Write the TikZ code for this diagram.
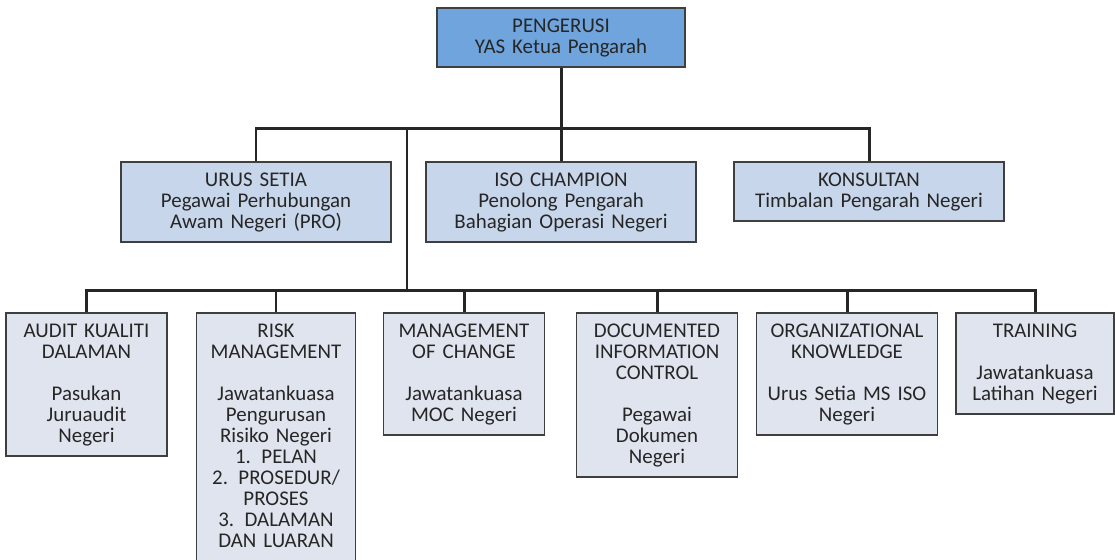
\documentclass[tikz,border=0pt]{standalone}
\usepackage{fontspec}
\setmainfont[WordSpace=0.8]{Carlito}
\usepackage{xcolor}
\usepackage{tikz}
\definecolor{border}{HTML}{3F3F3F}
\definecolor{wire}{HTML}{262626}
\definecolor{text}{HTML}{262626}
\definecolor{head}{HTML}{6FA4DD}
\definecolor{mid}{HTML}{C7D6EB}
\definecolor{low}{HTML}{DFE4EE}
\tikzset{
  box/.style={draw=border, line width=0.9pt, anchor=north, align=center,
    inner xsep=0pt, inner ysep=0.17cm, text=text,
    font=\fontsize{11.9pt}{11.95pt}\selectfont,
    execute at begin node=\rule{0pt}{9.5pt},
    execute at end node=\rule[-2.45pt]{0pt}{2.45pt}},
  boxT/.style={box, fill=head, text width=#1*0.02cm},
  boxM/.style={box, fill=mid, text width=#1*0.02cm},
  boxL/.style={box, fill=low, text width=#1*0.02cm},
  link/.style={draw=wire, line width=1.7pt}
}
\newcommand{\gap}{\\[0.42cm]}

\begin{document}
\begin{tikzpicture}[x=0.02cm, y=-0.02cm]
  \useasboundingbox (0,0) rectangle (1115,559);

  \coordinate (bar1) at (561,128);
  \coordinate (bar2) at (407,290);

  % Top level
  \node[boxT=248] (top) at (561,7) {PENGERUSI\\YAS Ketua Pengarah};

  % Second level
  \node[boxM=270] (urus) at (256,161) {URUS SETIA\\Pegawai Perhubungan\\Awam Negeri (PRO)};
  \node[boxM=270] (iso) at (561,161) {ISO CHAMPION\\Penolong Pengarah\\Bahagian Operasi Negeri};
  \node[boxM=270] (kons) at (869,161) {KONSULTAN\\Timbalan Pengarah Negeri};

  % Third level
  \node[boxL=161] (audit) at (86.5,312) {AUDIT KUALITI\\DALAMAN\gap Pasukan\\Juruaudit\\Negeri};
  \node[boxL=159] (risk) at (276,312) {RISK\\MANAGEMENT\gap Jawatankuasa\\Pengurusan\\Risiko Negeri\\1. PELAN\\2. PROSEDUR/\\PROSES\\3. DALAMAN\\DAN LUARAN};
  \node[boxL=161] (moc) at (464,312) {MANAGEMENT\\OF CHANGE\gap Jawatankuasa\\MOC Negeri};
  \node[boxL=161] (doc) at (657,312) {DOCUMENTED\\INFORMATION\\CONTROL\gap Pegawai\\Dokumen\\Negeri};
  \node[boxL=181] (org) at (847,312) {ORGANIZATIONAL\\KNOWLEDGE\gap Urus Setia MS ISO\\Negeri};
  \node[boxL=158] (trn) at (1035,312) {TRAINING\gap Jawatankuasa\\Latihan Negeri};

  % Connectors
  \draw[link] (top.south) -- (iso.north);
  \draw[link] (urus.north) |- (bar1);
  \draw[link] (kons.north) |- (bar1);
  \draw[link] (bar2) -- (bar2 |- bar1);
  \foreach \n in {audit,risk,moc,doc,org,trn}
    \draw[link] (\n.north) |- (bar2);
\end{tikzpicture}
\end{document}
